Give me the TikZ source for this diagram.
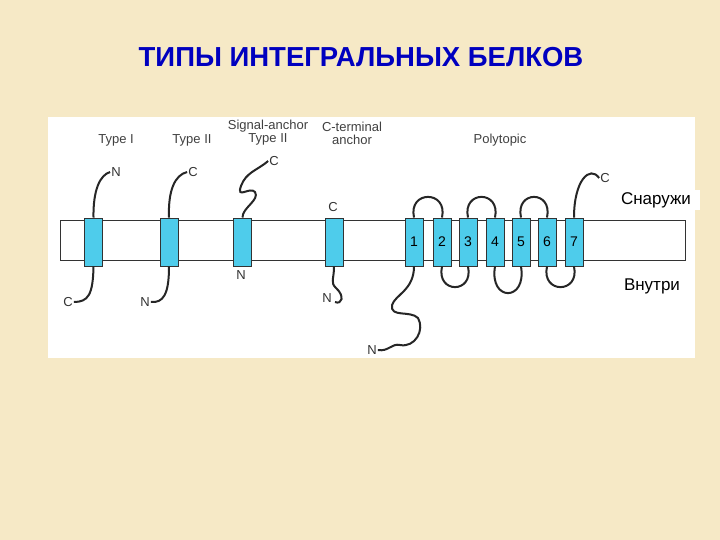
\documentclass[tikz,border=0pt]{standalone}
\usepackage{fontspec}
\setmainfont{Liberation Sans}
\begin{document}
\begin{tikzpicture}[x=1pt,y=-1pt,
  lbl/.style={font=\fontsize{13}{13}\selectfont, text=black!75, align=center, inner sep=0},
  end/.style={font=\fontsize{13}{13}\selectfont, text=black!80, inner sep=1pt},
  helix/.style={draw=black!80, fill=cyanish, line width=0.9pt, minimum width=18pt, minimum height=48pt, inner sep=0, font=\fontsize{14}{14}\selectfont},
  chain/.style={line width=2pt, black!85},
  ru/.style={font=\fontsize{17}{18}\selectfont, fill=white, inner sep=2pt}]
\definecolor{bg}{HTML}{F6E9C6}
\definecolor{cyanish}{HTML}{4ECCEB}
\useasboundingbox (0,0) rectangle (720,540);
\fill[bg] (0,0) rectangle (720,540);
\fill[white] (48,117) rectangle (695,358);
\node[font=\bfseries\fontsize{27.5}{29}\selectfont, text=blue!75!black] (title) at (361,57) {ТИПЫ ИНТЕГРАЛЬНЫХ БЕЛКОВ};
\draw[line width=1pt, black!80] (60,221) rectangle (685,260);
% labels
\node[lbl] (l1) at (116,140) {Type I};
\node[lbl] (l2) at (192,140) {Type II};
\node[lbl] (l3) at (268,133) {Signal-anchor\\Type II};
\node[lbl] (l4) at (352,133) {C-terminal\\anchor};
\node[lbl] (l5) at (500,140) {Polytopic};
% helices
\node[helix] (h1) at (93.5,242) {};
\node[helix] (h2) at (169,242) {};
\node[helix] (h3) at (242.5,242) {};
\node[helix] (h4) at (334,242) {};
\foreach \i/\x in {1/414,2/442,3/468,4/495,5/521,6/547,7/574}
  \node[helix] (p\i) at (\x,242) {\i};
% ends
\node[end] (n1) at (116,172) {N};
\node[end] (c1) at (68,302) {C};
\node[end] (c2) at (193,172) {C};
\node[end] (n2) at (145,302) {N};
\node[end] (c3) at (274,161) {C};
\node[end] (n3) at (241,275) {N};
\node[end] (c4) at (333,207) {C};
\node[end] (n4) at (327,298) {N};
\node[end] (n5) at (372,350) {N};
\node[end] (c5) at (605,178) {C};
% chains
\draw[chain] (h1.north) .. controls (93,190) and (100,175) .. (n1.west);
\draw[chain] (h1.south) .. controls (93,295) and (88,302) .. (c1.east);
\draw[chain] (h2.north) .. controls (168,190) and (175,175) .. (c2.west);
\draw[chain] (h2.south) .. controls (169,295) and (163,303) .. (n2.east);
\draw[chain] (h3.north) .. controls (242,208) and (260,200) .. (255,192) .. controls (250,186) and (236,200) .. (241,186) .. controls (246,172) and (258,170) .. (c3.west);
\draw[chain] (h4.south) .. controls (334,280) and (330,282) .. (336,288) .. controls (345,296) and (342,305) .. (335,302);
\draw[chain] (p1.south) .. controls (414,290) and (395,295) .. (392,305) .. controls (390,318) and (410,310) .. (418,318) .. controls (425,330) and (415,348) .. (400,345) .. controls (392,343) and (388,352) .. (n5.east);
\draw[chain] (p7.north) .. controls (574,180) and (590,165) .. (c5.west);
% loops
\draw[chain] (p1.north) .. controls (408,190) and (448,190) .. (p2.north);
\draw[chain] (p3.north) .. controls (462,190) and (501,190) .. (p4.north);
\draw[chain] (p5.north) .. controls (515,190) and (553,190) .. (p6.north);
\draw[chain] (p2.south) .. controls (436,294) and (474,294) .. (p3.south);
\draw[chain] (p4.south) .. controls (489,302) and (527,302) .. (p5.south);
\draw[chain] (p6.south) .. controls (541,294) and (580,294) .. (p7.south);
\node[ru, minimum width=88pt] (out) at (656,200) {Снаружи};
\node[ru] (in) at (652,286) {Внутри};
\end{tikzpicture}
\end{document}
